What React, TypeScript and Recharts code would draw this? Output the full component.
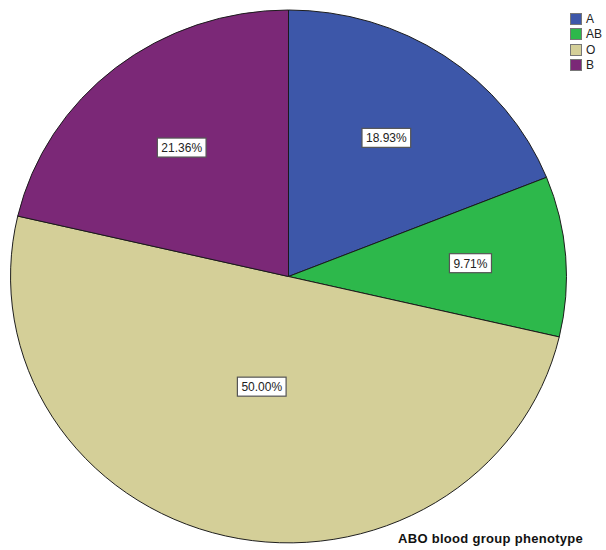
import React from "react";
import { PieChart, Pie, Cell, Legend } from "recharts";

// Phenotype counts (n = 206), drawn clockwise from 12 o'clock
const GROUPS = ["A", "AB", "O", "B"];
const COUNTS = [39, 20, 103, 44];
const COLORS = ["#3D57A9", "#2DB84B", "#D4CF98", "#7B2877"];

const TITLE = "ABO blood group phenotype";

const W = 606;
const H = 550;
const CX = 288.5;
const CY = 276.5;
const R = 278;
// the pie is drawn a little flatter than it is wide
const SQUISH = 266.5 / 278;

const data = GROUPS.map((name, i) => ({ name, value: COUNTS[i] }));
const RAD = Math.PI / 180;
const FONT = "'Liberation Sans', Arial, sans-serif";

const charW = (c: string) => (c === "." ? 3.34 : c === "%" ? 10.67 : 6.67);

function SliceLabel(props: any) {
  const { midAngle, percent } = props;
  const half = Math.PI * percent;
  // place the label near the slice centroid
  const d = (2 * R * Math.sin(half)) / (3 * half);
  const x = CX + d * Math.cos(-midAngle * RAD);
  const y = CY + d * Math.sin(-midAngle * RAD) * SQUISH;
  const text = `${(percent * 100).toFixed(2)}%`;
  const tw = text.split("").reduce((s, c) => s + charW(c), 0);
  const bw = tw + 8;
  const bh = 19;
  return (
    <g>
      <rect x={x - bw / 2} y={y - bh / 2} width={bw} height={bh} fill="#fff" stroke="#555" strokeWidth={1.2} />
      <text x={x} y={y + 4.5} textAnchor="middle" fontSize={12} fill="#222" fontFamily={FONT}>
        {text}
      </text>
    </g>
  );
}

function LegendBox() {
  return (
    <div style={{ fontFamily: FONT, fontSize: 12, color: "#222" }}>
      {GROUPS.map((g, i) => (
        <div key={g} style={{ display: "flex", alignItems: "center", height: 15.5 }}>
          <span
            style={{
              display: "inline-block",
              width: 10,
              height: 10,
              background: COLORS[i],
              border: "1px solid #777",
              marginRight: 4,
            }}
          />
          <span>{g}</span>
        </div>
      ))}
    </div>
  );
}

export default function App() {
  return (
    <div style={{ position: "absolute", left: 0, top: 0, width: W, height: H, background: "#fff" }}>
      <style>{`.abo-pie .recharts-pie-sector { transform-origin: ${CX}px ${CY}px; transform: scaleY(${SQUISH}); }`}</style>
      <PieChart width={W} height={H} className="abo-pie" margin={{ top: 0, right: 0, bottom: 0, left: 0 }}>
        <Pie
          data={data}
          dataKey="value"
          nameKey="name"
          cx={CX}
          cy={CY}
          outerRadius={R}
          startAngle={90}
          endAngle={-270}
          stroke="#1a1a1a"
          strokeWidth={1}
          labelLine={false}
          label={SliceLabel}
          isAnimationActive={false}
        >
          {data.map((_, i) => (
            <Cell key={i} fill={COLORS[i]} />
          ))}
        </Pie>
        <Legend
          layout="vertical"
          verticalAlign="top"
          align="right"
          content={<LegendBox />}
          wrapperStyle={{ position: "absolute", left: 570, top: 11, width: 36 }}
        />
      </PieChart>
      <div
        style={{
          position: "absolute",
          left: 398,
          top: 531,
          fontFamily: FONT,
          fontSize: 13,
          letterSpacing: 0.3,
          fontWeight: "bold",
          color: "#111",
          whiteSpace: "nowrap",
        }}
      >
        {TITLE}
      </div>
    </div>
  );
}
